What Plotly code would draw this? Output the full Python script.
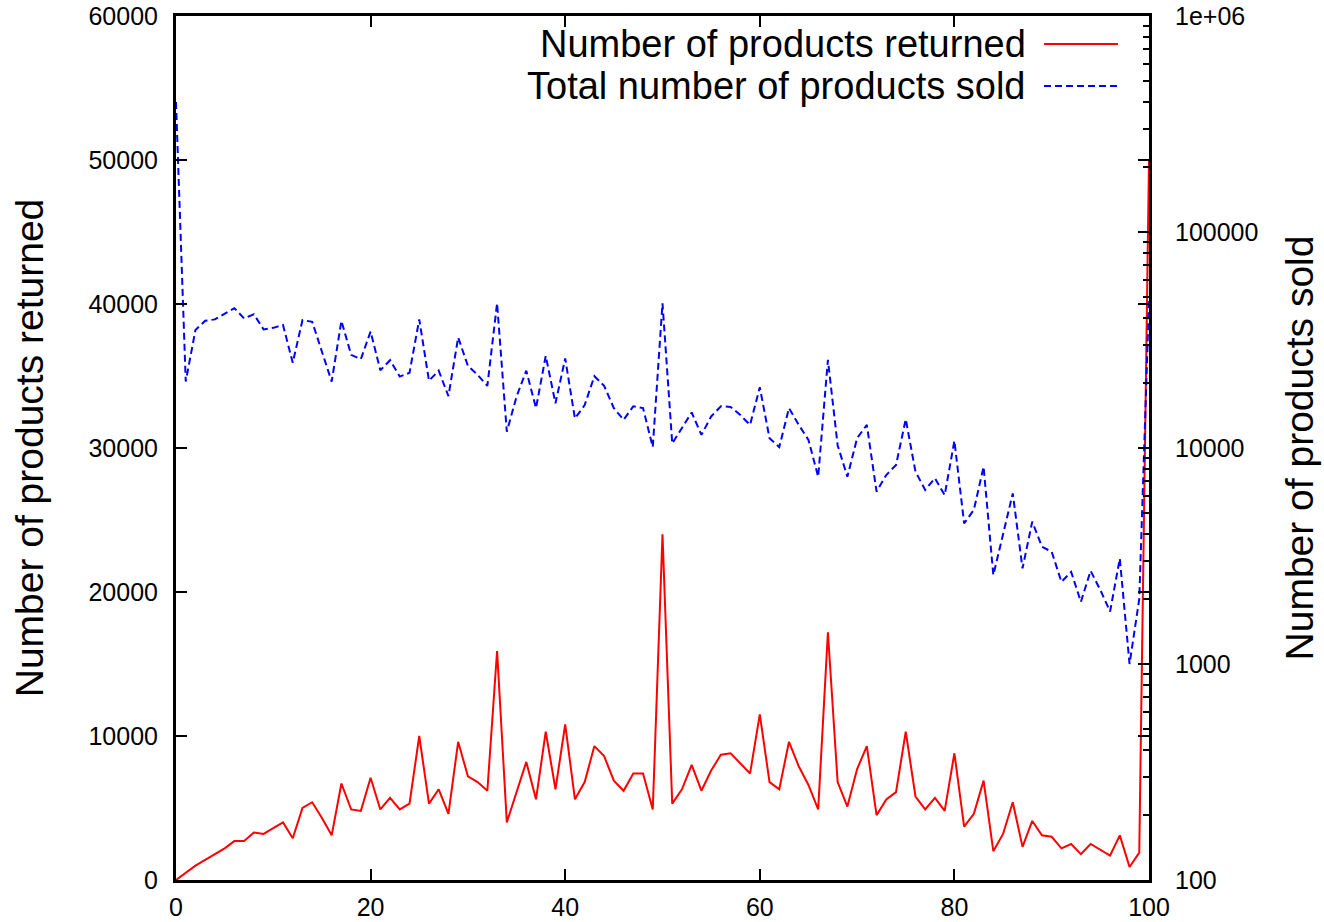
import plotly.graph_objects as go

# ---- data ----
percentile = list(range(0, 101))

returned = [
    0, 500, 1000, 1400, 1800, 2200, 2700, 2700, 3300, 3200,
    3600, 4000, 2900, 5000, 5400, 4300, 3100, 6700, 4900, 4800,
    7100, 4900, 5700, 4900, 5300, 10000, 5300, 6300, 4600, 9600,
    7200, 6800, 6200, 15900, 4000, 6100, 8200, 5600, 10300, 6300,
    10800, 5600, 6800, 9300, 8600, 6900, 6200, 7400, 7400, 4900,
    24000, 5300, 6300, 8000, 6200, 7600, 8700, 8800, 8100, 7400,
    11500, 6800, 6300, 9600, 7900, 6600, 4900, 17200, 6800, 5100,
    7700, 9300, 4500, 5600, 6100, 10300, 5800, 4900, 5700, 4800,
    8800, 3700, 4600, 6900, 2000, 3200, 5400, 2300, 4100, 3100,
    3000, 2200, 2500, 1800, 2500, 2100, 1700, 3100, 900, 1900,
    50000,
]

sold = [
    400000, 20300, 35200, 38800, 39400, 42000, 44400, 39800, 41600, 35400,
    36000, 37100, 24800, 39100, 38400, 27900, 20300, 38800, 27000, 25800,
    34600, 22900, 25500, 21400, 22300, 39400, 20500, 22800, 17400, 32500,
    24000, 21800, 19400, 46800, 11900, 17300, 22800, 15300, 26700, 16100,
    26000, 13700, 15800, 21500, 19400, 15300, 13500, 15600, 15300, 10100,
    46800, 10500, 12300, 14600, 11500, 14000, 15600, 15500, 14200, 12800,
    19100, 11100, 10100, 15300, 12800, 10900, 7360, 25600, 10300, 7360,
    11100, 12800, 6280, 7500, 8340, 13600, 7770, 6400, 7250, 6050,
    10800, 4480, 5170, 8190, 2580, 3950, 6160, 2770, 4560, 3490,
    3310, 2400, 2670, 1940, 2700, 2200, 1750, 3080, 1000, 2000,
    48000,
]

x_ticks = [0, 20, 40, 60, 80, 100]
y_ticks = [0, 10000, 20000, 30000, 40000, 50000, 60000]
y_ticktext = ["0", "10000", "20000", "30000", "40000", "50000", "60000"]
y2_tickvals = [100, 1000, 10000, 100000, 1000000]
y2_ticktext = ["100", "1000", "10000", "100000", "1e+06"]

series_names = ["Number of products returned", "Total number of products sold"]
series_colors = ["#ff0000", "#0000ff"]
y_title = "Number of products returned"
y2_title = "Number of products sold"

FONT = "Liberation Sans, Arial, Helvetica, sans-serif"
DASH = "7px,4px"

fig = go.Figure()
fig.add_trace(go.Scatter(
    x=percentile, y=returned, mode="lines", name=series_names[0],
    line=dict(color=series_colors[0], width=2), yaxis="y", showlegend=False,
))
fig.add_trace(go.Scatter(
    x=percentile, y=sold, mode="lines", name=series_names[1],
    line=dict(color=series_colors[1], width=2, dash=DASH), yaxis="y2", showlegend=False,
))

axis_common = dict(
    showline=True, linecolor="black", linewidth=3, showgrid=False, zeroline=False,
    ticks="inside", tickcolor="black", tickwidth=2, ticklen=11,
    tickfont=dict(family=FONT, size=25, color="black"),
    ticklabeloverflow="allow",
)

fig.update_layout(
    width=1324, height=922,
    margin=dict(l=176, r=175, t=16, b=42, autoexpand=False),
    paper_bgcolor="white", plot_bgcolor="white",
    font=dict(family=FONT, color="black"),
    xaxis=dict(
        range=[0, 100], tickvals=x_ticks, mirror="ticks",
        ticklabelstandoff=3, **axis_common,
    ),
    yaxis=dict(
        range=[0, 60000], tickvals=y_ticks, ticktext=y_ticktext, mirror="ticks",
        ticklabelstandoff=10,
        title=dict(text=y_title, font=dict(family=FONT, size=39), standoff=33),
        **axis_common,
    ),
    yaxis2=dict(
        type="log", range=[2, 6], overlaying="y", side="right",
        tickvals=y2_tickvals, ticktext=y2_ticktext,
        ticklabelstandoff=18,
        minor=dict(ticks="inside", ticklen=6, tickwidth=2, tickcolor="black", dtick="D1"),
        title=dict(text=y2_title, font=dict(family=FONT, size=39), standoff=29),
        **axis_common,
    ),
)

# gnuplot-style key: right-aligned text with the line sample to its right
key_rows_y = [0.9676, 0.9190]
for name, color, yy, dash in zip(series_names, series_colors, key_rows_y, ["solid", DASH]):
    fig.add_annotation(
        xref="paper", yref="paper", x=0.8746, y=yy, xanchor="right", yanchor="middle",
        text=name, showarrow=False, borderpad=0,
        font=dict(family=FONT, size=38, color="black"),
    )
    fig.add_shape(
        type="line", xref="paper", yref="paper", x0=0.8921, x1=0.9681, y0=yy, y1=yy,
        line=dict(color=color, width=2, dash=dash),
    )

# remove the default page margin so the figure fills the window exactly
fig.write_html(
    "out.html",
    config={"displayModeBar": False},
    post_script="document.body.style.margin='0px';document.body.style.overflow='hidden';",
)
